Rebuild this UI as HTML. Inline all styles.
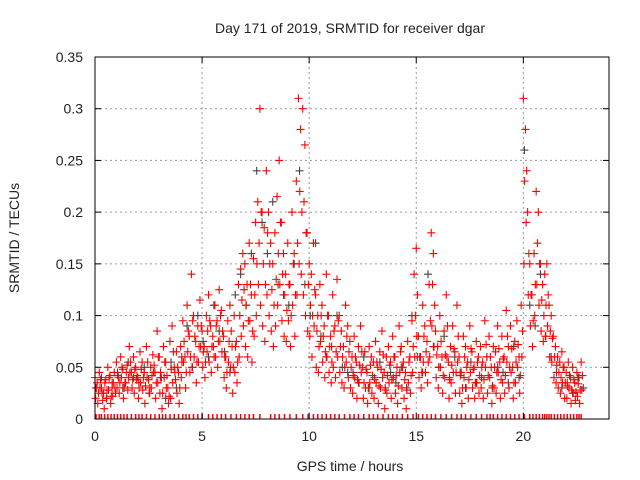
<!DOCTYPE html>
<html><head><meta charset="utf-8"><style>
body{margin:0;background:#fff;}
svg{display:block;font-family:"Liberation Sans",sans-serif;}
</style></head><body>
<svg id="chart" width="640" height="480" viewBox="0 0 640 480">
<rect width="640" height="480" fill="#fff"/>
<g id="grid"></g>
<g id="marks"></g>
<g id="axes"></g>
<text x="350" y="33" text-anchor="middle" font-size="14" fill="#222">Day 171 of 2019, SRMTID for receiver dgar</text>
<text x="350" y="471" text-anchor="middle" font-size="14" fill="#222">GPS time / hours</text>
<text transform="translate(19,238) rotate(-90)" text-anchor="middle" font-size="14" fill="#222">SRMTID / TECUs</text>
</svg>
<script>
const xTicks=[0,5,10,15,20];
const yTicks=[0,0.05,0.1,0.15,0.2,0.25,0.3,0.35];
const yTickLabels=["0","0.05","0.1","0.15","0.2","0.25","0.3","0.35"];
const redA=[40,35,45,30,25,38,50,42,30,45,55,40,60,48,35,52,70,45,60,50,40,65,55,45,70,38,50,62,45,85,60,40,70,55,30,75,90,50,65,45,70,95,60,110,80,140,100,75,90,115,85,70,100,120,90,80,110,95,125,105,80,60,95,110,70,100,75,130,145,160,150,130,170,120,155,190,210,300,200,185,240,200,170,150,180,215,250,190,160,140,170,130,200,160,230,310,280,300,265,180,150,140,170,120,100,130,110,90,140,100,80,120,90,135,100,85,70,110,90,75,60,80,55,70,90,50,65,45,70,60,55,75,50,65,85,45,60,70,55,80,60,50,90,70,55,45,75,60,95,140,165,80,60,110,90,75,130,180,160,85,70,100,60,85,120,55,70,90,65,110,60,45,80,70,55,90,65,50,75,60,70,55,95,60,80,50,70,65,90,55,80,60,105,70,90,50,75,95,60,110,310,280,200,150,120,160,220,200,150,130,140,150,110,100,80,70,60,55,65,50,45,55,40,50,35,45,40,55];
const redB=[20,15,30,25,10,20,28,15,22,30,30,25,40,20,35,28,45,30,25,38,20,35,28,15,40,25,30,45,20,35,25,10,40,30,15,20,35,45,25,15,40,55,30,65,45,50,60,35,55,70,50,40,65,55,45,70,60,50,75,65,40,30,55,50,25,45,35,60,80,90,70,60,95,55,80,100,130,110,90,75,120,100,85,70,90,110,130,95,80,75,95,70,110,80,120,150,140,120,100,85,80,60,90,50,45,75,55,40,60,45,35,50,40,60,45,35,30,55,40,30,25,40,20,35,45,20,30,15,35,25,20,35,15,30,40,10,25,35,20,40,25,15,45,30,20,10,35,25,45,60,80,40,30,55,45,35,60,90,70,40,30,50,25,40,60,20,35,45,25,55,25,15,40,30,20,45,30,20,35,25,30,20,50,25,40,15,30,25,45,20,35,25,55,30,45,20,35,50,25,60,150,190,120,90,70,100,130,110,85,75,80,90,60,55,40,35,30,25,35,20,20,30,15,25,18,22,15,28];
const redC=[30,25,38,18,35,28,40,22,35,25,42,35,50,30,45,40,55,38,48,42,30,48,40,32,55,30,42,52,35,60,45,25,55,42,22,48,65,38,50,30,55,75,45,85,60,95,80,55,70,90,65,55,85,95,70,60,90,75,100,85,60,45,75,85,50,70,55,100,115,125,110,95,130,85,120,150,170,200,150,130,180,150,125,110,135,160,190,140,120,105,130,100,150,120,170,220,200,210,180,130,110,100,125,85,70,100,80,65,100,70,55,85,65,95,70,60,50,80,65,50,42,60,38,52,65,35,48,30,52,42,38,55,32,48,62,28,42,52,38,60,42,32,65,50,38,28,55,42,70,100,120,60,45,80,65,55,95,130,110,62,50,75,42,62,90,38,52,68,45,80,42,30,60,50,38,68,48,35,55,42,50,38,72,42,60,32,50,45,68,38,58,42,80,50,68,35,55,72,42,85,230,240,160,120,95,130,170,150,115,100,110,120,85,78,60,52,45,40,50,35,32,42,28,38,26,34,28,42];
const gray=[30,40,20,35,45,30,55,40,35,50,25,45,40,20,55,30,60,90,50,100,75,60,110,85,65,45,120,140,110,160,240,190,160,210,130,120,110,150,240,130,100,170,80,60,70,100,50,45,45,35,60,30,40,55,30,45,35,50,30,100,60,45,140,70,50,80,40,60,45,30,55,35,40,60,30,50,45,35,70,40,260,110,90,140,80,60,45,30,35,25,40,30];
const zeroT=[0.05,0.2,0.3,0.45,0.6,0.75,0.9,1.05,1.2,1.35,1.5,1.7,1.9,2.05,2.2,2.4,2.6,2.8,3.0,3.15,3.3,3.5,3.7,3.9,4.1,4.25,4.4,4.6,4.8,5.0,5.3,5.5,5.7,5.9,6.1,6.35,6.6,6.8,7.0,7.2,7.4,7.7,8.2,8.4,8.6,8.85,9.1,9.4,9.7,9.95,10.2,10.4,10.6,10.8,11.0,11.2,11.4,11.65,11.9,12.1,12.3,12.55,12.8,13.0,13.2,13.45,13.7,13.9,14.1,14.35,14.6,14.85,15.1,15.3,15.5,15.7,15.9,16.15,16.4,16.65,16.9,17.1,17.3,17.55,17.8,18.05,18.3,18.45,18.6,18.8,19.0,19.2,19.4,19.6,19.8,20.05,20.3,20.45,20.6,20.75,20.9,21.0,21.1,21.2,21.3,21.45,21.6,21.75,21.9,22.05,22.2,22.35,22.5,22.6,22.7];
const X0=95,X1=609,Y0=419,Y1=57,XMAX=24,YMAX=0.35;
const xs=t=>X0+(X1-X0)*t/XMAX, ys=v=>Y0-(Y0-Y1)*v/YMAX;
const NS="http://www.w3.org/2000/svg";
function mk(tag,attrs,parent){const e=document.createElementNS(NS,tag);for(const k in attrs)e.setAttribute(k,attrs[k]);parent.appendChild(e);return e;}
const grid=document.getElementById('grid'),axes=document.getElementById('axes'),marks=document.getElementById('marks');
xTicks.forEach((t,i)=>{const x=xs(t);
 if(t>0){const l=mk('line',{x1:x,x2:x,y1:Y1,y2:Y0,stroke:'#999','stroke-dasharray':'2,3'},grid);
 
 }
 mk('line',{x1:x,x2:x,y1:Y0,y2:Y0-6,stroke:'#000'},axes);
 mk('line',{x1:x,x2:x,y1:Y1,y2:Y1+6,stroke:'#000'},axes);
 const tx=mk('text',{x:x,y:Y0+22,'text-anchor':'middle','font-size':14,fill:'#222'},axes);tx.textContent=String(t);
 
 });
yTicks.forEach((v,i)=>{const y=ys(v);
 if(v>0&&v<0.35){const l=mk('line',{x1:X0,x2:X1,y1:y,y2:y,stroke:'#999','stroke-dasharray':'2,3'},grid);
 
 }
 mk('line',{x1:X0,x2:X0+6,y1:y,y2:y,stroke:'#000'},axes);
 mk('line',{x1:X1,x2:X1-6,y1:y,y2:y,stroke:'#000'},axes);
 const tx=mk('text',{x:83,y:y+5,'text-anchor':'end','font-size':14,fill:'#222'},axes);tx.textContent=yTickLabels[i];
 
 });
const frame=mk('rect',{x:X0,y:Y1,width:X1-X0,height:Y0-Y1,fill:'none',stroke:'#000','stroke-width':1},axes);


function plus(t,v,col,name){const x=xs(t),y=ys(v);
 const p=mk('path',{d:`M${x-4},${y}h8M${x},${y-4}v8`,stroke:col,'stroke-width':1.1,fill:'none'},marks);
 
 }
gray.forEach((v,i)=>plus(i*0.25+0.05,v/1000,'#444','gray-point'));
redB.forEach((v,i)=>plus(i*0.1+0.03,v/1000,'#f00','red-point'));
redC.forEach((v,i)=>plus(i*0.1+0.06,v/1000,'#f00','red-point'));
redA.forEach((v,i)=>plus(i*0.1,v/1000,'#f00','red-point'));
zeroT.forEach(t=>{const x=xs(t);
 const p=mk('path',{d:`M${x},${Y0-5}v5`,stroke:'#f00','stroke-width':1.5},marks);
 
 });
</script>
</body></html>
